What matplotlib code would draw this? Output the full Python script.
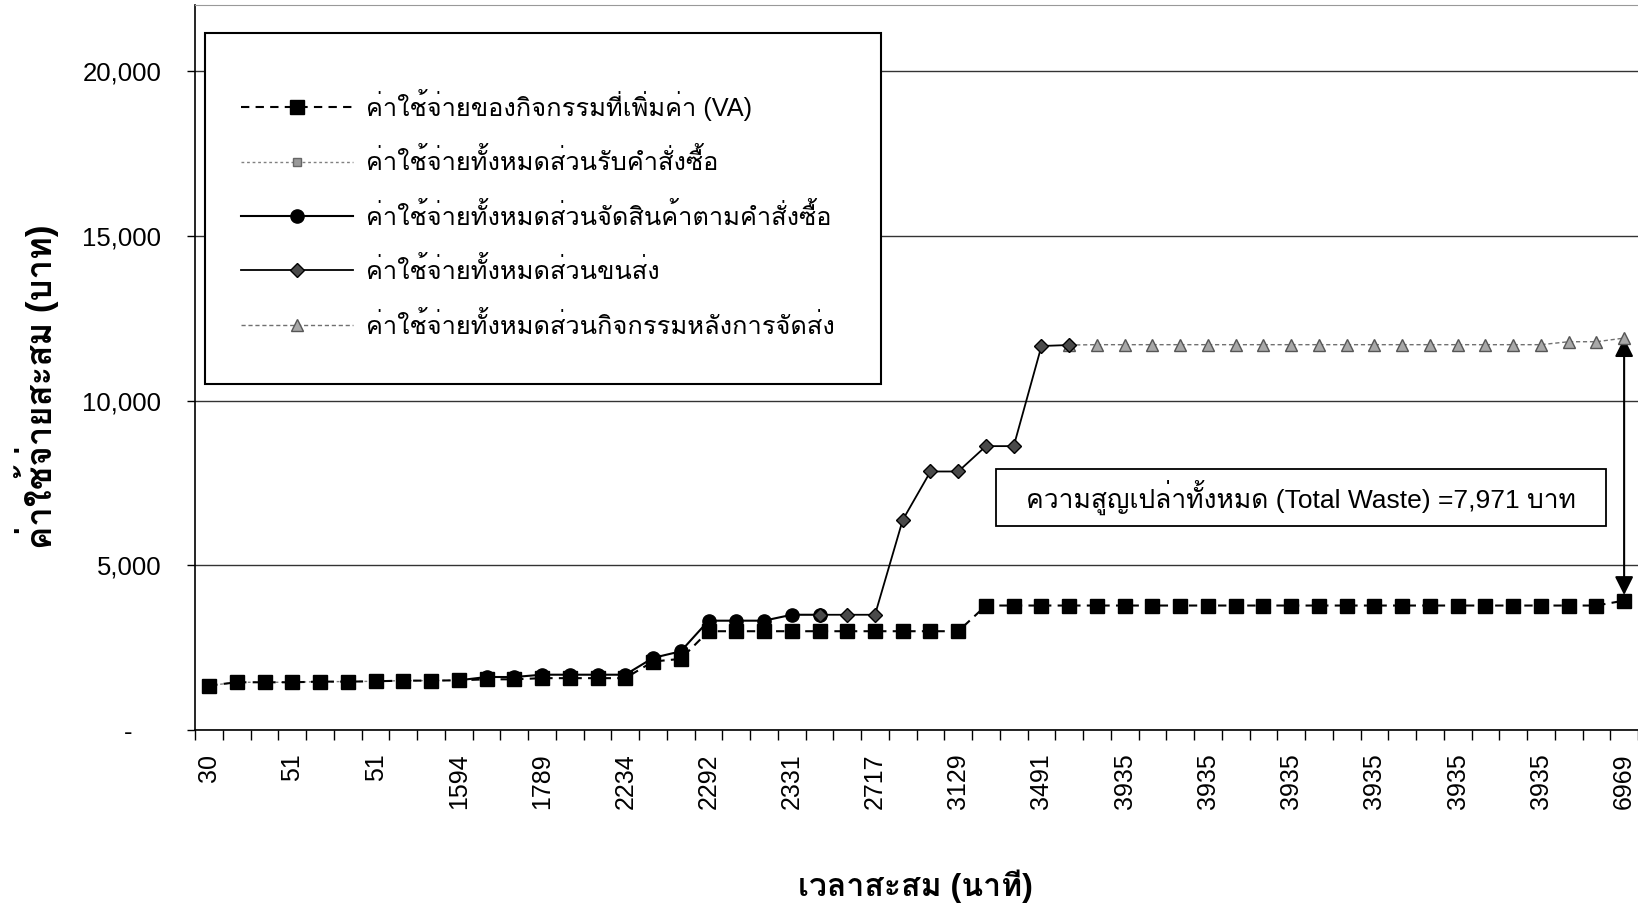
import numpy as np
import matplotlib
matplotlib.use("Agg")
import matplotlib.pyplot as plt
from matplotlib.patches import Rectangle
from matplotlib.ticker import FuncFormatter

# cumulative time (minutes), only every 3rd category is labelled on the axis
tick_labels = ['30', '51', '51', '1594', '1789', '2234', '2292', '2331', '2717',
               '3129', '3491', '3935', '3935', '3935', '3935', '3935', '3935', '6969']

# value added cost, one value per category (52 points)
va = [1350, 1450, 1450, 1450, 1470, 1470, 1480, 1500, 1500, 1510,
      1540, 1540, 1575, 1575, 1575, 1575, 2080, 2160, 3000, 3000,
      3000, 3000, 3000, 3000, 3000, 3000, 3000, 3000, 3780, 3780,
      3780, 3780, 3780, 3780, 3780, 3780, 3780, 3780, 3780, 3780,
      3780, 3780, 3780, 3780, 3780, 3780, 3780, 3780, 3780, 3780,
      3780, 3930]
# total cost, split into the parts of the process
receive = [1350, 1450, 1450, 1450, 1470, 1470, 1480, 1500, 1500, 1510]          # from 0
picking = [1510, 1610, 1610, 1680, 1680, 1680, 1680, 2190, 2390, 3320,
           3320, 3320, 3500, 3500]                                               # from 9
transport = [3500, 3500, 3500, 6380, 7850, 7850, 8620, 8620, 11660, 11690]       # from 22
post = [11690, 11700, 11700, 11700, 11700, 11700, 11700, 11700, 11700, 11700,
        11700, 11700, 11700, 11700, 11700, 11700, 11700, 11700, 11790, 11790,
        11900]                                                                   # from 31
receive_start, picking_start, transport_start, post_start = 0, 9, 22, 31

names = ['ค่าใช้จ่ายของกิจกรรมที่เพิ่มค่า (VA)',
         'ค่าใช้จ่ายทั้งหมดส่วนรับคำสั่งซื้อ',
         'ค่าใช้จ่ายทั้งหมดส่วนจัดสินค้าตามคำสั่งซื้อ',
         'ค่าใช้จ่ายทั้งหมดส่วนขนส่ง',
         'ค่าใช้จ่ายทั้งหมดส่วนกิจกรรมหลังการจัดส่ง']
waste_text = 'ความสูญเปล่าทั้งหมด (Total Waste) =7,971 บาท'
xlabel = 'เวลาสะสม (นาที)'
ylabel = 'ค่าใช้จ่ายสะสม (บาท)'

plt.rcParams['font.family'] = ['Liberation Sans', 'Loma', 'DejaVu Sans']

fig = plt.figure(figsize=(16.38, 9.08), dpi=100)
ax = fig.add_axes([0.1192, 0.196, 0.8808, 0.798])

x_all = np.arange(len(va))
l_rec, = ax.plot(np.arange(receive_start, receive_start + len(receive)), receive,
                 ls=(0, (2, 2)), lw=1, color='#808080', marker='s', ms=6,
                 mfc='#999999', mec='#666666', zorder=2)
l_va, = ax.plot(x_all, va, ls=(0, (4, 3)), lw=1.5, color='black', marker='s', ms=9.5,
                mfc='black', mec='black', zorder=3)
l_pick, = ax.plot(np.arange(picking_start, picking_start + len(picking)), picking,
                  ls='-', lw=1.5, color='black', marker='o', ms=9.5, zorder=4)
l_tr, = ax.plot(np.arange(transport_start, transport_start + len(transport)), transport,
                ls='-', lw=1.3, color='black', marker='D', ms=7,
                mfc='#4a4a4a', mec='black', zorder=5)
l_post, = ax.plot(np.arange(post_start, post_start + len(post)), post,
                  ls=(0, (3, 2)), lw=1, color='#707070', marker='^', ms=9,
                  mfc='#a8a8a8', mec='#555555', zorder=4)

ax.set_xlim(-0.5, 51.4)
ax.set_ylim(0, 22000)

ax.set_xticks(np.arange(0, len(va), 3))
ax.set_xticklabels(tick_labels, rotation=90, fontsize=18)
ax.set_xticks(np.arange(-0.5, len(va), 1), minor=True)
ax.tick_params(axis='x', which='major', length=0, pad=17)
ax.tick_params(axis='x', which='minor', length=7, width=1, direction='out')

ax.set_yticks(np.arange(0, 20001, 5000))
ax.yaxis.set_major_formatter(FuncFormatter(lambda v, p: '-    ' if v == 0 else f'{v:,.0f}'))
ax.tick_params(axis='y', length=6, width=1, direction='out', pad=18.5, labelsize=18.5)
ax.yaxis.grid(True, color='#333333', lw=1)
ax.set_axisbelow(True)

ax.spines['right'].set_visible(False)
ax.spines['top'].set_color('#999999')
ax.spines['top'].set_linewidth(0.8)
ax.spines['left'].set_linewidth(1.2)
ax.spines['bottom'].set_linewidth(1.2)

# arrow showing the total waste
ax.annotate('', xy=(51, va[-1]), xytext=(51, post[-1]),
            arrowprops=dict(arrowstyle='<|-|>', color='black', lw=1.5,
                            mutation_scale=28, shrinkA=0, shrinkB=4))

# legend box
fig.add_artist(Rectangle((0.125, 0.5767), 0.4126, 0.3866, transform=fig.transFigure,
                         facecolor='white', edgecolor='black', lw=1.5, zorder=1))
fig.legend([l_va, l_rec, l_pick, l_tr, l_post], names, loc='upper left',
           bbox_to_anchor=(0.1395, 0.916), bbox_transform=fig.transFigure,
           frameon=False, numpoints=1, handlelength=4.4, handletextpad=0.5,
           labelspacing=1.08, borderpad=0, prop={'size': 18.3})

# total waste box
fig.add_artist(Rectangle((0.6078, 0.4202), 0.3724, 0.0633, transform=fig.transFigure,
                         facecolor='white', edgecolor='black', lw=1.3, zorder=1))
fig.text(0.794, 0.4519, waste_text, ha='center', va='center', fontsize=19, zorder=3)

fig.text(0.0225, 0.574, ylabel, rotation=90, ha='center', va='center',
         fontsize=25, fontweight='bold')
fig.text(0.5586, 0.024, xlabel, ha='center', va='center', fontsize=23, fontweight='bold')

fig.savefig('out.png', dpi=100)
